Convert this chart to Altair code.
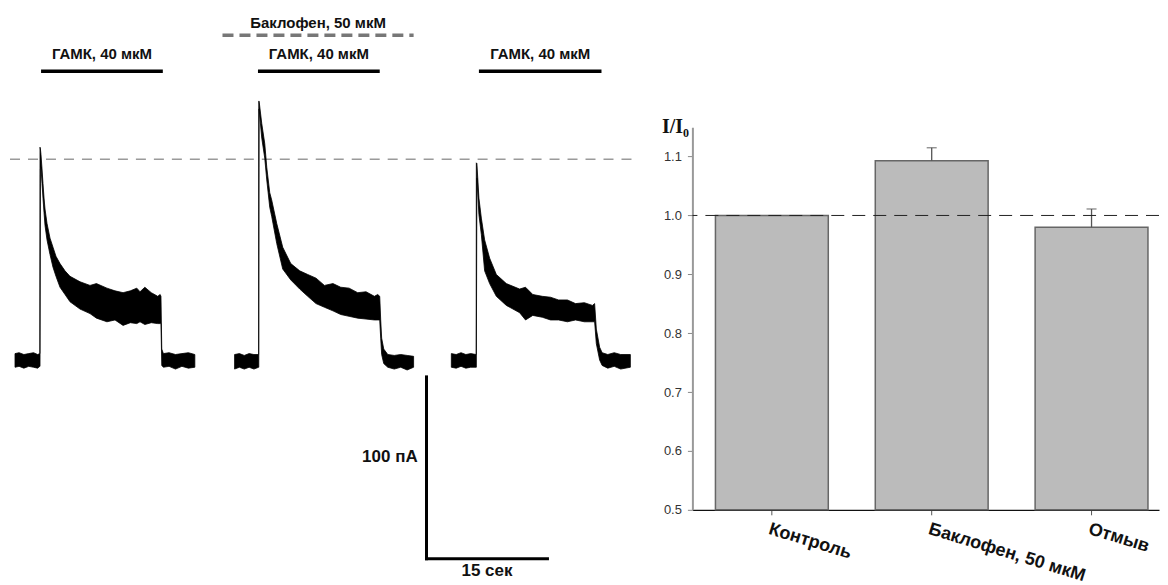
import altair as alt
import pandas as pd

# ---------------- left panel: GABA-evoked currents ----------------
onsets = [3.97, 31.10, 58.08]          # s, start of each GABA application
trace_names = ["Контроль", "Баклофен", "Отмыв"]

# time relative to onset (s), lower / upper noise envelope of the current (pA)
tr1_t = [-3.1, -2.6, -2.0, -1.4, -0.8, -0.3, -0.02, 0.0, 0.05, 0.12, 0.25, 0.37, 0.5, 0.62, 0.87,
         1.24, 1.61, 1.98, 2.48, 3.1, 3.72, 4.96, 6.2, 7.0, 8.3, 9.3, 10.3, 11.2, 12.0, 12.4, 13.0,
         13.8, 14.6, 14.9, 15.0, 15.1, 15.3, 16.0, 16.8, 17.6, 18.4, 19.2]
tr1_lo = [-4, -3.5, -4.5, -3.5, -4, -4.5, -3.5, -3.5, 105, 106, 97, 89, 81, 74, 66,
          58, 51, 46, 40, 36, 32, 28, 25.5, 23, 21, 22, 19, 20.5, 20, 21, 19.5,
          20.5, 20, 20, 20, -3, -4, -3.5, -5, -3.5, -4.5, -4]
tr1_hi = [3.5, 4, 3, 3.5, 4, 3, 3.5, 117, 116, 113, 105, 97, 89, 83, 75,
          67, 62, 57, 53, 49, 46, 43, 41, 42, 39.5, 38, 37, 38, 39.5, 37.5, 40,
          37, 35, 36, 35, 6, 3.5, 4, 3, 3.5, 4, 3]

tr2_t = [-3.0, -2.4, -1.8, -1.2, -0.6, -0.02, 0.0, 0.04, 0.37, 0.74, 0.99, 1.36, 1.6,
         2.23, 2.97, 3.97, 5.08, 6.07, 7.1, 8.14, 9.2, 10.16, 11.2, 12.27, 13.3, 14.34, 14.75,
         15.0, 15.12, 15.24, 15.5, 16.0, 16.8, 17.6, 18.4, 19.2]
tr2_lo = [-5, -4, -5, -4, -5, -4, -4, 138, 122, 111, 99, 84, 79,
          64, 50, 44, 39, 35, 31, 29, 27, 25, 24, 23, 22.5, 22, 22,
          22, 12, 3, -2, -4, -5, -4, -5.5, -4]
tr2_hi = [3, 3.5, 2.5, 3.5, 3, 3, 142.3, 142.3, 130, 119, 106, 92, 88,
          75, 62, 53, 49, 47, 45, 41, 42, 40, 39.5, 37, 37.5, 35, 36,
          35, 22, 12, 6, 3, 2.5, 3, 2.5, 2]

tr3_t = [-3.1, -2.5, -1.9, -1.3, -0.7, -0.02, 0.0, 0.07, 0.32, 0.62, 1.03, 1.65, 2.48,
         3.72, 5.37, 6.1, 7.0, 8.18, 9.2, 10.2, 11.3, 12.3, 13.4, 14.4, 14.67,
         14.88, 15.29, 15.6, 16.3, 17.1, 17.9, 19.1]
tr3_lo = [-4, -4.5, -3.5, -4.5, -4, -4, -4, 100, 80, 69, 49, 42, 35,
          30, 26, 22, 24.5, 23.5, 22, 22, 21, 22, 21, 21, 21,
          9, 0, -3, -4.5, -3.5, -5, -4]
tr3_hi = [3.5, 3, 4, 3, 3.5, 3, 108.4, 108, 89, 78, 66, 56, 47,
          42, 39, 40, 36, 35, 34.5, 33, 33, 31, 31.5, 30, 31,
          17, 7, 4, 3, 4, 3, 3]

gaba_start = [4.1, 31.0, 58.4]         # s
gaba_end = [19.2, 46.1, 73.6]          # s
gaba_label = "ГАМК, 40 мкМ"
baclofen_start, baclofen_end = 26.6, 50.3
baclofen_label = "Баклофен, 50 мкМ"
ref_level = 110.4                      # pA, dashed reference level
scale_pA = 100
scale_s = 15

# ---------------- right panel: normalized amplitude ----------------
categories = ["Контроль", "Баклофен, 50 мкМ", "Отмыв"]
ratios = [1.0, 1.093, 0.980]
sems = [0.0, 0.022, 0.031]

# ---------------- build tables ----------------
rows = []
for k, (tt, lo, hi) in enumerate([(tr1_t, tr1_lo, tr1_hi), (tr2_t, tr2_lo, tr2_hi), (tr3_t, tr3_lo, tr3_hi)]):
    for ti, l, h in zip(tt, lo, hi):
        rows.append({"trace": trace_names[k], "time": onsets[k] + ti, "lo": l, "hi": h})
traces = pd.DataFrame(rows)

gaba = pd.DataFrame({"start": gaba_start, "end": gaba_end})
gaba["mid"] = (gaba["start"] + gaba["end"]) / 2
gaba["label"] = gaba_label

xs = alt.Scale(domain=[0, 79.3], nice=False, zero=False)
ys = alt.Scale(domain=[-119.2, 193.4], nice=False, zero=False)

def X(f):
    return alt.X(f, type="quantitative", scale=xs, axis=None)

def Y(f):
    return alt.Y(f, type="quantitative", scale=ys, axis=None)

def Xd(v):
    return alt.X(datum=v, type="quantitative", scale=xs, axis=None)

def Yd(v):
    return alt.Y(datum=v, type="quantitative", scale=ys, axis=None)

ref_line = alt.Chart(pd.DataFrame({"a": [0.25], "b": [78.3]})).mark_rule(
    color="#9a9a9a", strokeWidth=1.5, strokeDash=[10, 8]
).encode(x=X("a"), x2="b", y=Yd(ref_level))

trace_area = alt.Chart(traces).mark_area(
    color="black", stroke="black", strokeWidth=0.8, opacity=1
).encode(x=X("time"), y=Y("lo"), y2="hi", detail="trace:N")

gaba_bars = alt.Chart(gaba).mark_rule(color="black", strokeWidth=3.5).encode(
    x=X("start"), x2="end", y=Yd(158.8))

gaba_text = alt.Chart(gaba).mark_text(
    font="Liberation Sans", fontSize=15, fontWeight="bold", color="#111"
).encode(x=X("mid"), y=Yd(168), text="label:N")

bac_df = pd.DataFrame({"s": [baclofen_start], "e": [baclofen_end],
                       "mid": [(baclofen_start + baclofen_end) / 2], "label": [baclofen_label]})
bac_line = alt.Chart(bac_df).mark_rule(color="#777777", strokeWidth=3.5, strokeDash=[11, 6]).encode(
    x=X("s"), x2="e", y=Yd(178.6))
bac_text = alt.Chart(bac_df).mark_text(
    font="Liberation Sans", fontSize=15, fontWeight="bold", color="#111"
).encode(x=X("mid"), y=Yd(185.3), text="label:N")

sb_df = pd.DataFrame({"x0": [51.9], "x1": [51.9 + scale_s], "y0": [-9.3], "y1": [-9.3 - scale_pA]})
sb_v = alt.Chart(sb_df).mark_rule(color="black", strokeWidth=3, strokeCap="square").encode(
    x=X("x0"), y=Y("y0"), y2="y1")
sb_h = alt.Chart(sb_df).mark_rule(color="black", strokeWidth=3, strokeCap="square").encode(
    x=X("x0"), x2="x1", y=Y("y1"))
sb_t1 = alt.Chart(pd.DataFrame({"t": [f"{scale_pA} пА"]})).mark_text(
    font="Liberation Sans", fontSize=17, fontWeight="bold", color="#111", align="right"
).encode(x=Xd(50.8), y=Yd(-53.1), text="t:N")
sb_t2 = alt.Chart(pd.DataFrame({"t": [f"{scale_s} сек"]})).mark_text(
    font="Liberation Sans", fontSize=17, fontWeight="bold", color="#111"
).encode(x=Xd(59.4), y=Yd(-116.3), text="t:N")

left = alt.layer(ref_line, trace_area, gaba_bars, gaba_text, bac_line, bac_text,
                 sb_v, sb_h, sb_t1, sb_t2).properties(width=640, height=569)

# ---------------- right chart ----------------
bars_df = pd.DataFrame({"cond": categories, "ratio": ratios, "sem": sems})
bars_df["upper"] = bars_df["ratio"] + bars_df["sem"]

xaxis = alt.Axis(title=None, labelAngle=17, labelAlign="left", labelBaseline="top",
                 labelFont="Liberation Sans", labelFontSize=18, labelFontWeight="bold",
                 labelColor="#111", labelPadding=5, labelOverlap=False, labelBound=False,
                 labelFlush=False, tickColor="#555", tickSize=5, domainColor="#111",
                 domainWidth=1.3)
xscale = alt.Scale(paddingInner=0.294, paddingOuter=0.1066, align=0.676)
yaxis = alt.Axis(title="I/I₀", titleAngle=0, titleX=-31, titleY=124, titleAlign="left",
                 titleBaseline="alphabetic", titleFont="Liberation Serif", titleFontSize=20,
                 titleFontWeight="bold", titleColor="#111",
                 values=[0.5, 0.6, 0.7, 0.8, 0.9, 1.0, 1.1], format=".1f",
                 labelFont="Liberation Sans", labelFontSize=13, labelColor="#333",
                 labelPadding=6, tickColor="#888", tickSize=5, domainColor="#999",
                 domainWidth=2, grid=False)
yscale = alt.Scale(domain=[0.5, 1.15], range=[502, 119], nice=False, zero=False)

XB = alt.X("cond:N", sort=categories, scale=xscale, axis=xaxis)

bar = alt.Chart(bars_df).mark_bar(fill="#bbbbbb", stroke="#666666", strokeWidth=1.5).encode(
    x=XB, y=alt.Y("ratio:Q", scale=yscale, axis=yaxis), y2=alt.datum(0.5))
err = alt.Chart(bars_df).transform_filter("datum.sem > 0").mark_rule(
    color="#555555", strokeWidth=1.3).encode(
    x=XB, y=alt.Y("ratio:Q", scale=yscale, axis=yaxis), y2="upper:Q")
cap = alt.Chart(bars_df).transform_filter("datum.sem > 0").mark_tick(
    color="#555555", thickness=1.3, size=10).encode(
    x=XB, y=alt.Y("upper:Q", scale=yscale, axis=yaxis))
one = alt.Chart(pd.DataFrame({"v": [1.0]})).mark_rule(
    color="#222222", strokeWidth=1, strokeDash=[13, 8]).encode(
    y=alt.Y("v:Q", scale=yscale, axis=yaxis))

right = alt.layer(bar, err, cap, one).properties(width=467, height=502)

chart = alt.hconcat(left, right, spacing=45, bounds="flush", padding=0).configure(
    font="Liberation Sans").configure_view(stroke=None)

chart.save("out.html", embed_options={"renderer": "svg", "actions": False})
